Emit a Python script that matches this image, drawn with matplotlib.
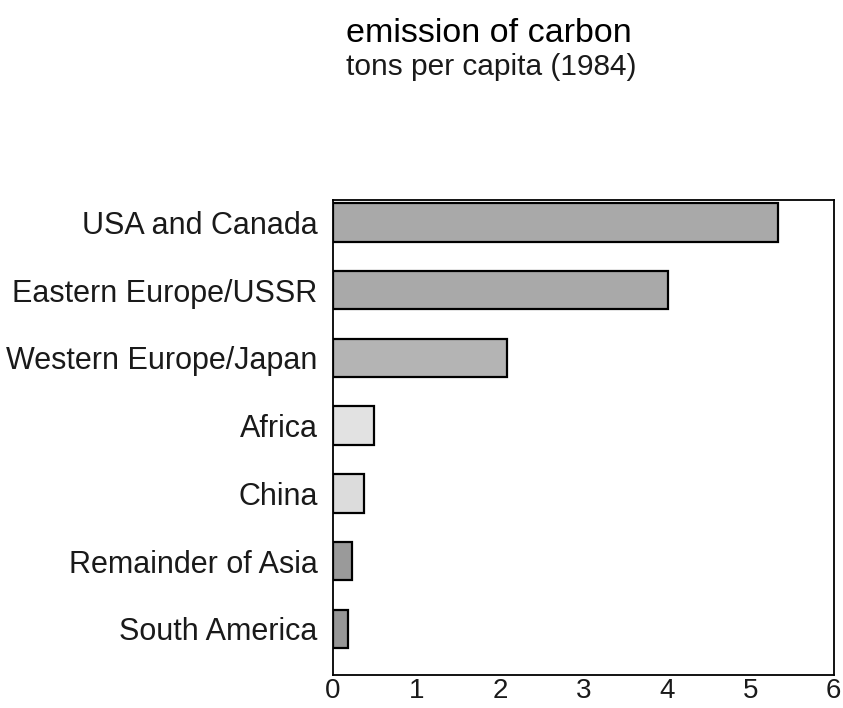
import numpy as np
import matplotlib.pyplot as plt

# emission of carbon, tons per capita (1984)
regions = ['USA and Canada', 'Eastern Europe/USSR', 'Western Europe/Japan',
           'Africa', 'China', 'Remainder of Asia', 'South America']
tons = [5.33, 4.01, 2.09, 0.49, 0.37, 0.23, 0.18]
fills = ['#a9a9a9', '#a9a9a9', '#b4b4b4', '#e2e2e2', '#dcdcdc', '#9a9a9a', '#969696']

plt.rcParams['font.family'] = ['Liberation Sans', 'DejaVu Sans']

fig = plt.figure(figsize=(8.43, 7.08), dpi=100)
ax = fig.add_axes([0.395, 0.0466, 0.594, 0.671])

y = np.arange(len(regions))[::-1]
ax.barh(y, tons, height=0.57, color=fills, edgecolor='black', linewidth=1.6)

ax.set_xlim(0, 6)
ax.set_ylim(-0.68, 6.33)
ax.set_yticks(y)
ax.set_yticklabels(regions, fontsize=22, color='#1a1a1a')
ax.set_xticks(range(7))
ax.set_xticklabels([str(i) for i in range(7)], fontsize=20, color='#1a1a1a')
ax.tick_params(axis='y', length=0, pad=11)
ax.tick_params(axis='x', length=0, pad=2)
for s in ax.spines.values():
    s.set_linewidth(1.3)

fig.text(0.410, 0.94, 'emission of carbon', fontsize=24.5, ha='left', va='baseline')
fig.text(0.410, 0.894, 'tons per capita (1984)', fontsize=21.5, ha='left', va='baseline',
         color='#1a1a1a')

fig.savefig('out.png', dpi=100)
